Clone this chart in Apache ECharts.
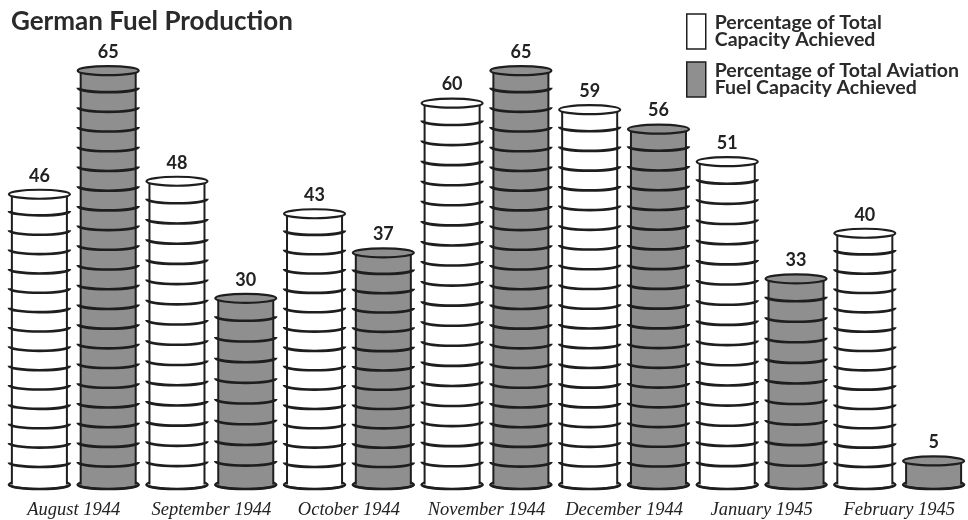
<!DOCTYPE html>
<html>
<head>
<meta charset="utf-8">
<script src="https://cdn.jsdelivr.net/npm/echarts@6/dist/echarts.min.js"></script>
<style>html,body{margin:0;padding:0;background:#fff;}#chart{width:968px;height:520px;}</style>
</head>
<body>
<div id="chart"></div>
<script>
var categories = ['August 1944', 'September 1944', 'October 1944', 'November 1944', 'December 1944', 'January 1945', 'February 1945'];
var totalCapacity = [46, 48, 43, 60, 59, 51, 40];
var aviationCapacity = [65, 30, 37, 65, 56, 33, 5];
var seriesNames = ['Percentage of Total\nCapacity Achieved', 'Percentage of Total Aviation\nFuel Capacity Achieved'];

var INK = '#1e1e1e';
var GREY = '#8f8f8f';

function ellipsePath(cx, cy, rx, ry) {
  return 'M' + (cx - rx) + ' ' + cy + ' A' + rx + ' ' + ry + ' 0 1 0 ' + (cx + rx) + ' ' + cy +
         ' A' + rx + ' ' + ry + ' 0 1 0 ' + (cx - rx) + ' ' + cy + ' Z';
}
function frontArc(cx, cy, rx, ry) {
  return 'M' + (cx - rx) + ' ' + cy + ' A' + rx + ' ' + ry + ' 0 0 0 ' + (cx + rx) + ' ' + cy;
}

function makeRender(side, fill) {
  return function (params, api) {
    var idx = api.value(0);
    var val = api.value(1);
    var band = api.size([1, 0])[0];
    var base = api.coord([idx, 0]);
    var top = api.coord([idx, val]);
    var cx = base[0] + side * band * 0.25;
    var ry = 4.5;
    var half = band * 0.2;
    var rim = half + 3;
    var topC = top[1] + ry;
    var botC = base[1] - ry;
    var children = [];
    children.push({ type: 'path', shape: { pathData: ellipsePath(cx, botC, rim, ry) },
      style: { fill: fill, stroke: INK, lineWidth: 2.2 } });
    children.push({ type: 'rect', shape: { x: cx - half, y: topC, width: half * 2, height: Math.max(0, botC - topC) },
      style: { fill: fill } });
    children.push({ type: 'line', shape: { x1: cx - half, y1: topC, x2: cx - half, y2: botC }, style: { stroke: INK, lineWidth: 2 } });
    children.push({ type: 'line', shape: { x1: cx + half, y1: topC, x2: cx + half, y2: botC }, style: { stroke: INK, lineWidth: 2 } });
    children.push({ type: 'path', shape: { pathData: frontArc(cx, botC, rim, ry) },
      style: { fill: null, stroke: INK, lineWidth: 2.6 } });
    var n = Math.max(1, Math.round((botC - topC) / 20));
    var step = (botC - topC) / n;
    for (var i = 1; i < n; i++) {
      var yy = topC + i * step;
      children.push({ type: 'path', shape: { pathData: frontArc(cx, yy - ry * 0.6, rim, ry) },
        style: { fill: null, stroke: INK, lineWidth: 2.6 } });
    }
    children.push({ type: 'path', shape: { pathData: ellipsePath(cx, topC, rim, ry) },
      style: { fill: fill, stroke: INK, lineWidth: 2.2 } });
    children.push({ type: 'text', x: cx, y: top[1] - 5,
      style: { text: String(val), fill: '#222', font: 'bold 18px Lato', textAlign: 'center', textVerticalAlign: 'bottom' } });
    return { type: 'group', children: children };
  };
}

var chart = echarts.init(document.getElementById('chart'), null, { renderer: 'canvas' });
chart.setOption({
  animation: false,
  backgroundColor: '#fff',
  title: {
    text: 'German Fuel Production', left: 6, top: 4,
    textStyle: { fontFamily: 'Lato', fontWeight: 'bold', fontSize: 26, color: '#2a2a2a' }
  },
  legend: {
    orient: 'vertical', left: 681, top: 8, itemWidth: 19, itemHeight: 35, itemGap: 11,
    selectedMode: false,
    textStyle: { fontFamily: 'Lato', fontWeight: 'bold', fontSize: 19.5, lineHeight: 17, color: '#2a2a2a', padding: [0, 0, 0, 4] },
    data: [
      { name: seriesNames[0], icon: 'rect', itemStyle: { color: '#fff', borderColor: INK, borderWidth: 1.5 } },
      { name: seriesNames[1], icon: 'rect', itemStyle: { color: GREY, borderColor: INK, borderWidth: 1.5 } }
    ]
  },
  grid: { left: 5, right: -2, top: 33.6, bottom: 30 },
  xAxis: {
    type: 'category', data: categories,
    axisLine: { show: false }, axisTick: { show: false },
    axisLabel: { margin: 12, fontFamily: 'Liberation Serif', fontStyle: 'italic', fontSize: 18.5, color: '#222', interval: 0 }
  },
  yAxis: { type: 'value', min: 0, max: 70, show: false, splitLine: { show: false } },
  series: [
    { name: seriesNames[0], type: 'custom', renderItem: makeRender(-1, '#ffffff'), itemStyle: { color: '#fff' },
      data: totalCapacity.map(function (v, i) { return [i, v]; }) },
    { name: seriesNames[1], type: 'custom', renderItem: makeRender(1, GREY), itemStyle: { color: GREY },
      data: aviationCapacity.map(function (v, i) { return [i, v]; }) }
  ]
});
</script>
</body>
</html>
